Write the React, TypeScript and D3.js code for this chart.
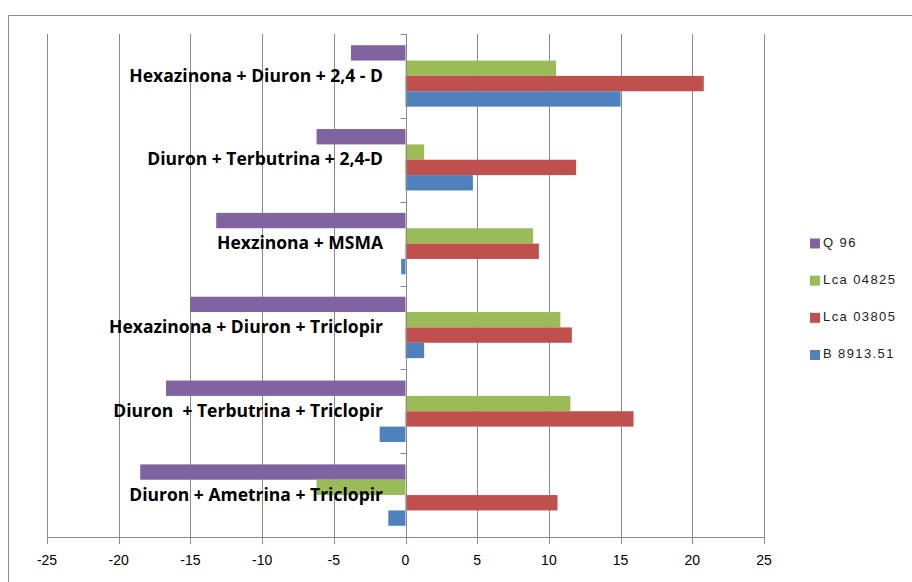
import React, { useEffect, useRef } from 'react';
import * as d3 from 'd3';

// categories, top to bottom
const categories = [
  'Hexazinona + Diuron + 2,4 - D',
  'Diuron + Terbutrina + 2,4-D',
  'Hexzinona + MSMA',
  'Hexazinona + Diuron + Triclopir',
  'Diuron  + Terbutrina + Triclopir',
  'Diuron + Ametrina + Triclopir',
];

// series, in legend order (top of each group first)
const seriesNames = ['Q 96', 'Lca 04825', 'Lca 03805', 'B 8913.51'];
const seriesColors = ['#8064A2', '#9BBB59', '#C0504D', '#4F81BD'];

const q96 = [-3.8, -6.2, -13.2, -15.0, -16.7, -18.5];
const lca04825 = [10.5, 1.3, 8.9, 10.8, 11.5, -6.2];
const lca03805 = [20.8, 11.9, 9.3, 11.6, 15.9, 10.6];
const b891351 = [15.0, 4.7, -0.3, 1.3, -1.8, -1.2];

const xTicks = [-25, -20, -15, -10, -5, 0, 5, 10, 15, 20, 25];

const W = 912;
const H = 582;

export default function App() {
  const ref = useRef<SVGSVGElement>(null);

  useEffect(() => {
    const svg = d3.select(ref.current);
    svg.selectAll('*').remove();

    const series = [q96, lca04825, lca03805, b891351];
    const top = 34;
    const bottom = 537;

    const x = d3.scaleLinear().domain([-25, 25]).range([47, 764]);
    const y = d3.scaleBand<string>().domain(categories).range([top, bottom]).padding(0);
    const inner = d3.scaleBand<number>()
      .domain(d3.range(series.length))
      .range([0, y.bandwidth()])
      .paddingInner(0)
      .paddingOuter(0.73);

    // chart border
    svg.append('path')
      .attr('d', `M8.5,${H} V15.5 H${W}`)
      .attr('fill', 'none')
      .attr('stroke', '#8c8c8c');

    // gridlines
    svg.append('g').selectAll('line')
      .data(xTicks.filter(t => t !== 0))
      .join('line')
      .attr('x1', d => Math.round(x(d)) + 0.5)
      .attr('x2', d => Math.round(x(d)) + 0.5)
      .attr('y1', top)
      .attr('y2', bottom)
      .attr('stroke', '#8a8a8a');

    // bars
    series.forEach((vals, si) => {
      svg.append('g').selectAll('rect')
        .data(vals)
        .join('rect')
        .attr('x', d => x(Math.min(0, d)))
        .attr('width', d => Math.abs(x(d) - x(0)))
        .attr('y', (d, i) => (y(categories[i]) as number) + (inner(si) as number))
        .attr('height', inner.bandwidth())
        .attr('fill', seriesColors[si]);
    });

    // vertical category axis at 0
    const x0 = Math.round(x(0)) + 0.5;
    const ax = svg.append('g').attr('stroke', '#8a8a8a');
    ax.append('line').attr('x1', x0).attr('x2', x0).attr('y1', top).attr('y2', bottom);
    const bounds = categories.map(c => y(c) as number).concat([bottom]);
    ax.selectAll('line.tk')
      .data(bounds)
      .join('line')
      .attr('class', 'tk')
      .attr('x1', x0 - 6)
      .attr('x2', x0)
      .attr('y1', d => Math.round(d) + 0.5)
      .attr('y2', d => Math.round(d) + 0.5);

    // x axis
    const xa = svg.append('g').attr('stroke', '#8a8a8a');
    xa.append('line').attr('x1', x(-25)).attr('x2', x(25)).attr('y1', bottom + 0.5).attr('y2', bottom + 0.5);
    xa.selectAll('line.tk')
      .data(xTicks)
      .join('line')
      .attr('class', 'tk')
      .attr('x1', d => Math.round(x(d)) + 0.5)
      .attr('x2', d => Math.round(x(d)) + 0.5)
      .attr('y1', bottom)
      .attr('y2', bottom + 7);

    svg.append('g').selectAll('text')
      .data(xTicks)
      .join('text')
      .attr('x', d => x(d))
      .attr('y', 561)
      .attr('text-anchor', 'middle')
      .attr('dominant-baseline', 'middle')
      .style('font-family', '"Liberation Sans Narrow", "Liberation Sans", sans-serif')
      .style('font-size', '14px')
      .attr('fill', '#000')
      .text(d => String(d));

    // category labels, drawn over the bars
    svg.append('g').selectAll('text')
      .data(categories)
      .join('text')
      .attr('x', 383)
      .attr('y', d => (y(d) as number) + y.bandwidth() / 2 + 1)
      .attr('text-anchor', 'end')
      .attr('dominant-baseline', 'middle')
      .style('font-family', '"Open Sans", sans-serif')
      .style('font-weight', 700)
      .style('font-size', '17.5px')
      .style('white-space', 'pre')
      .attr('fill', '#000')
      .text(d => d);

    // legend
    const lg = svg.append('g');
    const ly = d3.scalePoint<string>().domain(seriesNames).range([243.5, 355]);
    seriesNames.forEach((name, i) => {
      lg.append('rect')
        .attr('x', 810)
        .attr('y', (ly(name) as number) - 5)
        .attr('width', 10)
        .attr('height', 10)
        .attr('fill', seriesColors[i]);
      lg.append('text')
        .attr('x', 823)
        .attr('y', ly(name) as number)
        .attr('dominant-baseline', 'middle')
        .style('font-family', '"Liberation Sans", sans-serif')
        .style('font-size', '13px')
        .style('letter-spacing', '1.4px')
        .style('white-space', 'pre')
        .attr('fill', '#222')
        .text(name);
    });
  }, []);

  return (
    <svg
      ref={ref}
      width={W}
      height={H}
      style={{ position: 'absolute', left: 0, top: 0, background: '#fff' }}
    />
  );
}
